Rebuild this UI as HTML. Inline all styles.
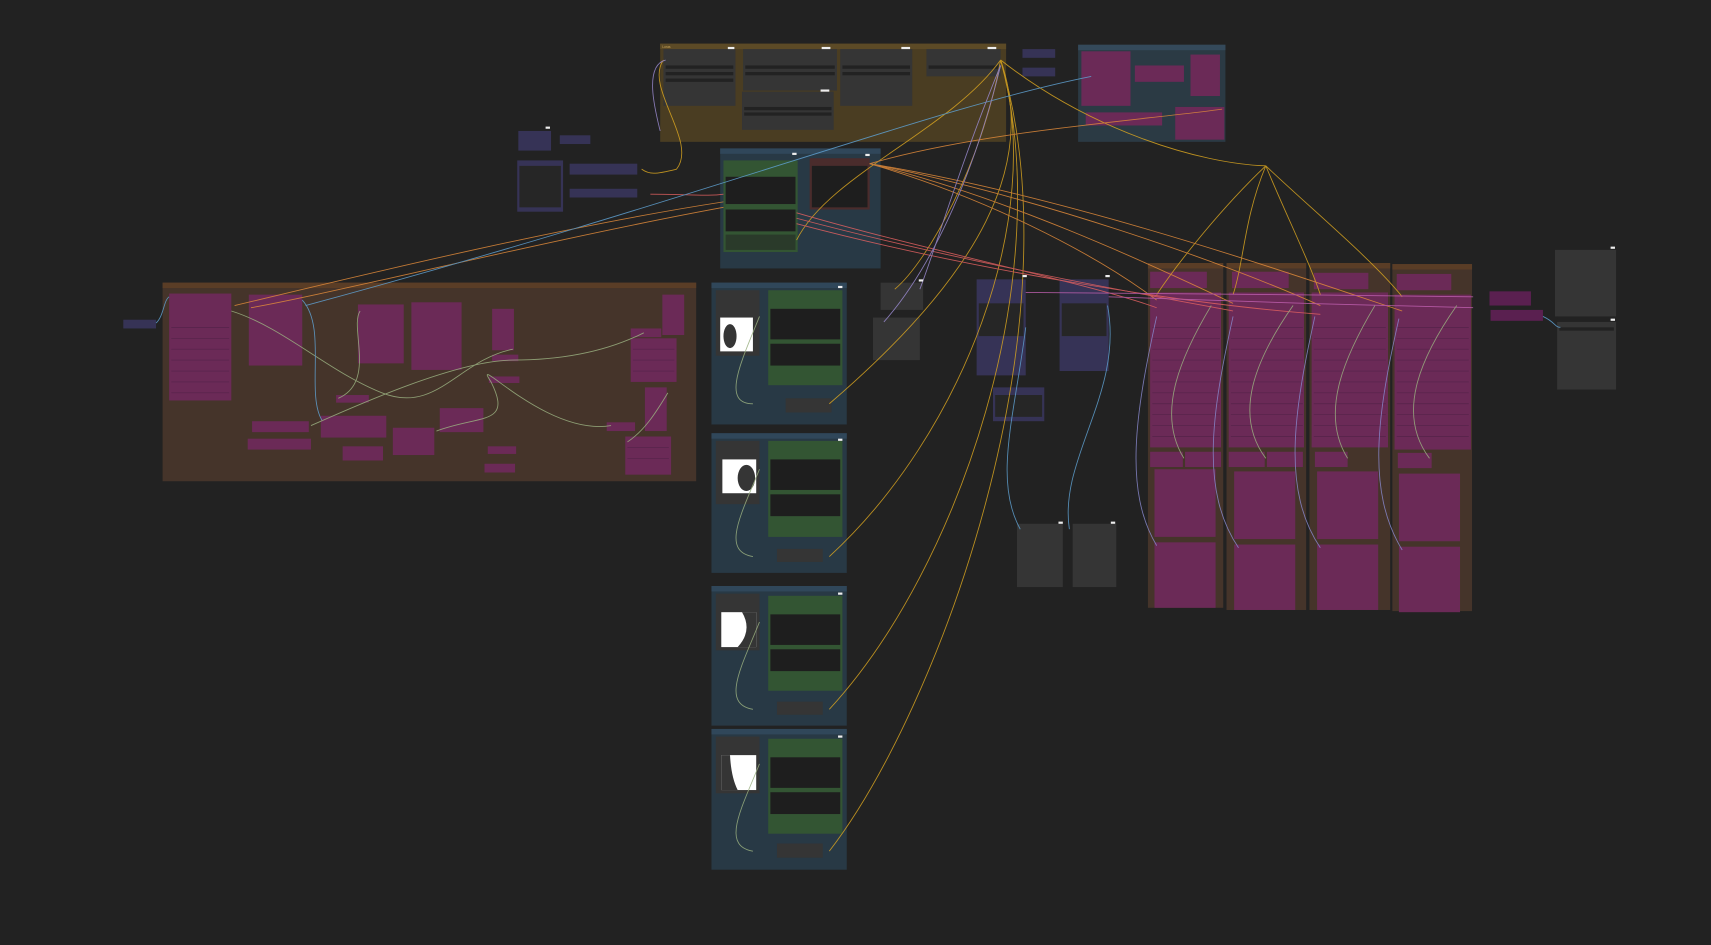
<!DOCTYPE html>
<html><head><meta charset="utf-8"><style>
html,body{margin:0;padding:0;background:#222;width:1711px;height:945px;overflow:hidden}
svg{display:block}
text{font-family:"Liberation Sans",sans-serif}
</style></head><body>
<svg width="1711" height="945" viewBox="0 0 1568 866" preserveAspectRatio="none" xmlns="http://www.w3.org/2000/svg">
<rect width="1568" height="866" fill="#222"/>
<!-- Groups -->
<g>
<rect x="605" y="40" width="317" height="90" fill="#4a3d22"/><rect x="605" y="40" width="317" height="5" fill="#5c4a26"/>
<text x="607" y="44" font-size="3" fill="#c9a55a">Loras</text>
<rect x="988" y="41" width="135" height="89" fill="#2b3a44"/><rect x="988" y="41" width="135" height="5" fill="#34495a"/>
<rect x="660" y="136" width="147" height="110" fill="#283945"/><rect x="660" y="136" width="147" height="5" fill="#30475a"/>
<rect x="149" y="259" width="489" height="182" fill="#45342a"/><rect x="149" y="259" width="489" height="5" fill="#5a3d26"/>
<rect x="652" y="259" width="124" height="130" fill="#283945"/><rect x="652" y="259" width="124" height="5" fill="#30475a"/>
<rect x="652" y="397" width="124" height="128" fill="#283945"/><rect x="652" y="397" width="124" height="5" fill="#30475a"/>
<rect x="652" y="537" width="124" height="128" fill="#283945"/><rect x="652" y="537" width="124" height="5" fill="#30475a"/>
<rect x="652" y="668" width="124" height="129" fill="#283945"/><rect x="652" y="668" width="124" height="5" fill="#30475a"/>
<rect x="1052" y="241" width="69" height="316" fill="#45342a"/><rect x="1052" y="241" width="69" height="5" fill="#5a3d26"/>
<rect x="1124" y="241" width="73" height="318" fill="#45342a"/><rect x="1124" y="241" width="73" height="5" fill="#5a3d26"/>
<rect x="1200" y="241" width="74" height="318" fill="#45342a"/><rect x="1200" y="241" width="74" height="5" fill="#5a3d26"/>
<rect x="1276" y="242" width="73" height="318" fill="#45342a"/><rect x="1276" y="242" width="73" height="5" fill="#5a3d26"/>
</g>
<!-- dark nodes -->
<g fill="#353535">
<rect x="608" y="45" width="66" height="52"/><rect x="681" y="45" width="86" height="38"/><rect x="770" y="45" width="66" height="52"/><rect x="849" y="45" width="68" height="25"/><rect x="680" y="84" width="84" height="35"/>
<rect x="807" y="259" width="39" height="25"/><rect x="800" y="291" width="43" height="39"/>
<rect x="932" y="480" width="42" height="58"/><rect x="983" y="480" width="40" height="58"/>
<rect x="1425" y="229" width="56" height="61"/><rect x="1427" y="295" width="54" height="62"/>
<rect x="656" y="266" width="40" height="60"/><rect x="656" y="404" width="40" height="58"/><rect x="656" y="544" width="40" height="52"/><rect x="656" y="675" width="40" height="52"/>
<rect x="720" y="365" width="42" height="13"/><rect x="712" y="503" width="42" height="12"/><rect x="712" y="643" width="42" height="12"/><rect x="712" y="773" width="42" height="13"/>
</g>
<g fill="#222">
<rect x="610" y="60" width="62" height="3"/><rect x="610" y="66" width="62" height="3"/><rect x="610" y="72" width="62" height="3"/>
<rect x="683" y="60" width="82" height="3"/><rect x="683" y="66" width="82" height="3"/>
<rect x="772" y="60" width="62" height="3"/><rect x="772" y="66" width="62" height="3"/>
<rect x="851" y="60" width="64" height="3"/><rect x="682" y="98" width="80" height="3"/><rect x="682" y="103" width="80" height="3"/>
<rect x="1427" y="290" width="52" height="2"/><rect x="1429" y="300" width="50" height="3"/>
</g>
<!-- mask images -->
<g fill="#fff">
<rect x="660" y="291" width="30" height="31"/><rect x="662" y="421" width="31" height="31"/><rect x="661" y="561" width="32" height="32"/><rect x="661" y="692" width="32" height="32"/>
</g>
<g fill="#353535">
<ellipse cx="669" cy="308" rx="6" ry="11"/><ellipse cx="684" cy="438" rx="8" ry="12"/>
<path d="M680 561 L693 561 L693 593 L676 593 Q690 578 680 561Z"/><path d="M661 692 L669 692 Q670 712 676 724 L661 724Z"/>
</g>
<!-- green nodes -->
<g>
<rect x="663" y="147" width="68" height="84" fill="#335533"/><rect x="665" y="162" width="64" height="25" fill="#1e1e1e"/><rect x="665" y="192" width="64" height="20" fill="#1e1e1e"/><rect x="665" y="215" width="64" height="14" fill="#2a3a2a"/>
<rect x="704" y="266" width="68" height="87" fill="#335533"/><rect x="706" y="283" width="64" height="28" fill="#1e1e1e"/><rect x="706" y="315" width="64" height="20" fill="#1e1e1e"/>
<rect x="704" y="404" width="68" height="88" fill="#335533"/><rect x="706" y="421" width="64" height="28" fill="#1e1e1e"/><rect x="706" y="453" width="64" height="20" fill="#1e1e1e"/>
<rect x="704" y="546" width="68" height="87" fill="#335533"/><rect x="706" y="563" width="64" height="28" fill="#1e1e1e"/><rect x="706" y="595" width="64" height="20" fill="#1e1e1e"/>
<rect x="704" y="677" width="68" height="87" fill="#335533"/><rect x="706" y="694" width="64" height="28" fill="#1e1e1e"/><rect x="706" y="726" width="64" height="20" fill="#1e1e1e"/>
<rect x="742" y="145" width="55" height="47" fill="#4a2c2c"/><rect x="744" y="152" width="51" height="38" fill="#1e1e1e"/>
</g>
<!-- purple nodes -->
<g fill="#363356">
<rect x="475" y="120" width="30" height="18"/><rect x="513" y="124" width="28" height="8"/><rect x="474" y="147" width="42" height="47"/><rect x="522" y="150" width="62" height="10"/><rect x="522" y="173" width="62" height="8"/>
<rect x="937" y="45" width="30" height="8"/><rect x="937" y="62" width="30" height="8"/>
<rect x="895" y="256" width="45" height="88"/><rect x="971" y="256" width="45" height="84"/><rect x="910" y="355" width="47" height="31"/>
<rect x="113" y="293" width="30" height="8"/>
</g>
<g fill="#262626"><rect x="897" y="278" width="41" height="30"/><rect x="973" y="278" width="41" height="30"/><rect x="912" y="362" width="43" height="20"/><rect x="476" y="152" width="38" height="38"/></g>
<!-- magenta nodes -->
<g fill="#6b2a57">
<rect x="991" y="47" width="45" height="50"/><rect x="1040" y="60" width="45" height="15"/><rect x="1091" y="50" width="27" height="38"/><rect x="995" y="103" width="70" height="12"/><rect x="1077" y="98" width="45" height="30"/>
<rect x="155" y="269" width="57" height="98"/><rect x="228" y="270" width="49" height="65"/><rect x="328" y="279" width="42" height="54"/><rect x="377" y="277" width="46" height="62"/><rect x="451" y="283" width="20" height="38"/><rect x="607" y="270" width="20" height="37"/><rect x="578" y="310" width="42" height="40"/><rect x="591" y="355" width="20" height="40"/><rect x="573" y="400" width="42" height="35"/>
<rect x="231" y="386" width="52" height="10"/><rect x="227" y="402" width="58" height="10"/><rect x="294" y="381" width="60" height="20"/><rect x="360" y="392" width="38" height="25"/><rect x="403" y="374" width="40" height="22"/><rect x="314" y="409" width="37" height="13"/><rect x="308" y="362" width="30" height="7"/><rect x="451" y="325" width="24" height="6"/><rect x="448" y="345" width="28" height="6"/><rect x="447" y="409" width="26" height="7"/><rect x="444" y="425" width="28" height="8"/><rect x="556" y="387" width="26" height="8"/><rect x="578" y="301" width="28" height="8"/>
<rect x="1054" y="249" width="52" height="15"/><rect x="1054" y="268" width="65" height="142"/><rect x="1054" y="414" width="30" height="14"/><rect x="1086" y="414" width="33" height="14"/><rect x="1058" y="430" width="56" height="62"/><rect x="1058" y="497" width="56" height="60"/>
<rect x="1129" y="249" width="52" height="15"/><rect x="1126" y="268" width="69" height="142"/><rect x="1126" y="414" width="33" height="14"/><rect x="1161" y="414" width="33" height="14"/><rect x="1131" y="432" width="56" height="62"/><rect x="1131" y="499" width="56" height="60"/>
<rect x="1204" y="250" width="50" height="15"/><rect x="1202" y="268" width="70" height="142"/><rect x="1205" y="414" width="30" height="14"/><rect x="1207" y="432" width="56" height="62"/><rect x="1207" y="499" width="56" height="60"/>
<rect x="1280" y="251" width="50" height="15"/><rect x="1278" y="270" width="70" height="142"/><rect x="1281" y="415" width="31" height="14"/><rect x="1282" y="434" width="56" height="62"/><rect x="1282" y="501" width="56" height="60"/>
</g>
<g fill="#5a2050"><rect x="1365" y="267" width="38" height="13"/><rect x="1366" y="284" width="48" height="10"/></g>
<g stroke="#55234a" stroke-width="0.6">
<path d="M1056 300H1118M1056 310H1118M1056 320H1118M1056 330H1118M1056 340H1118M1056 350H1118M1056 360H1118M1056 370H1118M1056 380H1118M1056 390H1118M1056 400H1118"/>
<path d="M1128 300H1194M1128 310H1194M1128 320H1194M1128 330H1194M1128 340H1194M1128 350H1194M1128 360H1194M1128 370H1194M1128 380H1194M1128 390H1194M1128 400H1194"/>
<path d="M1204 300H1270M1204 310H1270M1204 320H1270M1204 330H1270M1204 340H1270M1204 350H1270M1204 360H1270M1204 370H1270M1204 380H1270M1204 390H1270M1204 400H1270"/>
<path d="M1280 300H1346M1280 310H1346M1280 320H1346M1280 330H1346M1280 340H1346M1280 350H1346M1280 360H1346M1280 370H1346M1280 380H1346M1280 390H1346M1280 400H1346"/>
<path d="M157 300H210M157 310H210M157 320H210M157 330H210M157 340H210M157 350H210M157 360H210M580 320H618M580 330H618M580 340H618M575 410H613M575 420H613"/>
</g>
<!-- wires -->
<g fill="none" stroke-width="0.8" opacity="0.85">
<path stroke="#d9a520" d="M917 55 C870 120 760 160 730 220"/>
<path stroke="#d9a520" d="M917 55 C900 150 850 240 820 265"/>
<path stroke="#d9a520" d="M917 55 C950 150 900 250 760 370"/>
<path stroke="#d9a520" d="M917 55 C960 200 880 400 760 510"/>
<path stroke="#d9a520" d="M917 55 C970 250 880 520 760 650"/>
<path stroke="#d9a520" d="M917 55 C990 300 860 650 760 780"/>
<path stroke="#d9a520" d="M1160 152 C1120 190 1080 240 1060 270"/>
<path stroke="#d9a520" d="M1160 152 C1140 200 1140 240 1130 270"/>
<path stroke="#d9a520" d="M1160 152 C1180 200 1200 240 1210 270"/>
<path stroke="#d9a520" d="M1160 152 C1200 190 1260 240 1285 272"/>
<path stroke="#d9a520" d="M917 55 C1000 120 1100 150 1160 152"/>
<path stroke="#d9a520" d="M608 55 C590 80 640 130 620 155 C600 160 595 160 588 155"/>
<path stroke="#e08a3a" d="M797 150 C900 180 1000 230 1060 275"/>
<path stroke="#e08a3a" d="M797 150 C920 180 1050 240 1130 278"/>
<path stroke="#e08a3a" d="M797 150 C950 180 1120 240 1210 280"/>
<path stroke="#e08a3a" d="M797 150 C980 180 1180 250 1285 285"/>
<path stroke="#e08a3a" d="M797 150 C900 120 1050 110 1120 100"/>
<path stroke="#e08a3a" d="M663 185 C500 210 300 260 215 280"/>
<path stroke="#e08a3a" d="M663 190 C500 220 300 270 230 282"/>
<path stroke="#e06060" d="M730 195 C850 230 1000 260 1060 282"/>
<path stroke="#e06060" d="M730 200 C880 240 1050 270 1130 285"/>
<path stroke="#e06060" d="M730 205 C900 250 1100 280 1210 288"/>
<path stroke="#e06060" d="M596 178 C630 178 650 180 663 178"/>
<path stroke="#5fa0d0" d="M1000 70 C850 100 650 180 280 280"/>
<path stroke="#5fa0d0" d="M1015 280 C1030 360 970 420 980 485"/>
<path stroke="#5fa0d0" d="M940 300 C930 380 910 440 935 485"/>
<path stroke="#5fa0d0" d="M1414 290 C1425 295 1425 300 1430 300"/>
<path stroke="#9a8ad0" d="M917 60 C880 150 860 220 843 265"/>
<path stroke="#9a8ad0" d="M917 60 C890 170 850 250 810 295"/>
<path stroke="#9a8ad0" d="M610 55 C590 60 600 100 605 120"/>
<path stroke="#c060b0" d="M940 268 C1000 268 1200 270 1350 272"/>
<path stroke="#c060b0" d="M1016 272 C1100 275 1250 280 1350 282"/>
<path stroke="#9ab080" d="M1110 280 C1080 330 1060 380 1085 420"/>
<path stroke="#9ab080" d="M1185 280 C1150 330 1130 380 1160 420"/>
<path stroke="#9ab080" d="M1260 280 C1230 330 1210 380 1235 420"/>
<path stroke="#9ab080" d="M1335 280 C1300 330 1280 380 1310 420"/>
<path stroke="#8888cc" d="M1060 290 C1040 380 1030 450 1060 500"/>
<path stroke="#8888cc" d="M1130 290 C1110 380 1100 450 1135 502"/>
<path stroke="#8888cc" d="M1205 290 C1185 380 1175 450 1210 502"/>
<path stroke="#8888cc" d="M1282 292 C1262 380 1252 450 1285 504"/>
<path stroke="#9ab080" d="M696 290 C680 330 660 370 690 370"/>
<path stroke="#9ab080" d="M696 430 C680 470 660 505 690 510"/>
<path stroke="#9ab080" d="M696 570 C680 610 660 645 690 650"/>
<path stroke="#9ab080" d="M696 700 C680 740 660 775 690 780"/>
<path stroke="#9ab080" d="M212 285 C260 300 300 340 350 360 C400 380 420 330 470 320"/>
<path stroke="#9ab080" d="M285 390 C330 370 420 330 470 330 C520 330 560 320 590 305"/>
<path stroke="#9ab080" d="M400 395 C440 380 470 390 450 350 C430 320 500 400 560 390"/>
<path stroke="#5fa0d0" d="M277 275 C300 300 280 360 295 385"/>
<path stroke="#5fa0d0" d="M143 296 C150 290 150 275 155 272"/>
<path stroke="#9ab080" d="M330 285 C320 300 345 350 310 365"/>
<path stroke="#9ab080" d="M612 360 C600 380 590 395 575 405"/>
</g>
<!-- badges -->
<g fill="#eee"><rect x="667" y="43" width="6" height="2"/><rect x="753" y="43" width="8" height="2"/><rect x="826" y="43" width="8" height="2"/><rect x="905" y="43" width="8" height="2"/><rect x="752" y="82" width="8" height="2"/><rect x="726" y="140" width="4" height="2"/><rect x="793" y="141" width="4" height="2"/><rect x="842" y="256" width="4" height="2"/><rect x="937" y="252" width="4" height="2"/><rect x="1013" y="252" width="4" height="2"/><rect x="1476" y="226" width="4" height="2"/><rect x="1476" y="292" width="4" height="2"/><rect x="970" y="478" width="4" height="2"/><rect x="1018" y="478" width="4" height="2"/><rect x="768" y="262" width="4" height="2"/><rect x="768" y="402" width="4" height="2"/><rect x="768" y="543" width="4" height="2"/><rect x="768" y="674" width="4" height="2"/><rect x="500" y="116" width="4" height="2"/></g>
</svg>
</body></html>
